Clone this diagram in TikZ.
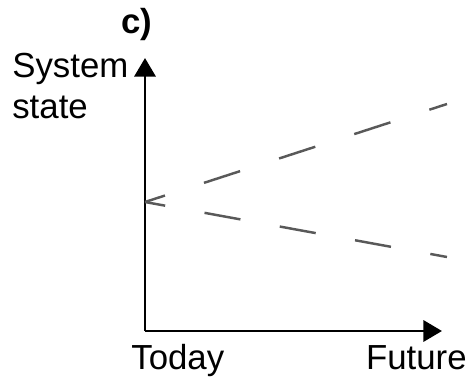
\documentclass[tikz,border=0pt]{standalone}
\usepackage{fontspec}
\setmainfont{Liberation Sans}
\usetikzlibrary{arrows.meta}

\begin{document}
\begin{tikzpicture}[
        font=\fontsize{19.8}{22.8}\selectfont,
        axis/.style={line width=1.7pt, -{Triangle[length=0.37cm, width=0.42cm]}},
        trend/.style={line width=1.4pt, black!65},
        lbl/.style={inner sep=0pt, align=left}
      ]
      \useasboundingbox (-2.9,-0.96) rectangle (6.44,6.62);

      \coordinate (origin) at (0,0);
      \coordinate (ytip) at (0,5.46);
      \coordinate (xtip) at (5.94,0);
      \coordinate (today) at (0,2.58);
      \coordinate (up) at (6.04,4.54);
      \coordinate (down) at (6.04,1.48);

      \draw[axis] (origin) -- (ytip);
      \draw[axis] (origin) -- (xtip);

      \draw[trend, dash pattern=on 0.76cm off 0.82cm, dash phase=0.34cm] (today) -- (up);
      \draw[trend, dash pattern=on 0.73cm off 0.80cm, dash phase=0.32cm] (today) -- (down);

      \node[lbl, anchor=base west, font=\fontsize{19.8}{22.8}\selectfont\bfseries] (tag) at (-0.48,5.96) {c)};
      \node[lbl, anchor=base west] (ylabel) at (-2.66,4.26) {System\\state};
      \node[lbl, anchor=base west] (xstart) at (-0.28,-0.78) {Today};
      \node[lbl, anchor=base east] (xend) at (6.44,-0.78) {Future};
    \end{tikzpicture}
\end{document}
